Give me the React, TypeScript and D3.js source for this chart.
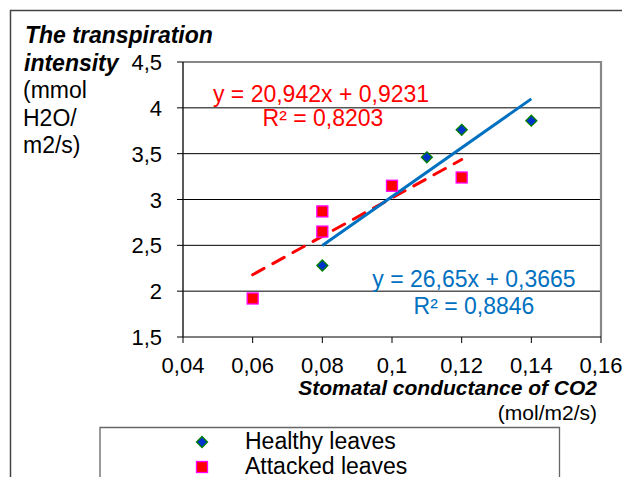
import React from "react";
import * as d3 from "d3";

const HEALTHY_X = [0.08, 0.11, 0.12, 0.14];
const HEALTHY_Y = [2.28, 3.46, 3.76, 3.86];
const ATTACKED_X = [0.06, 0.08, 0.08, 0.1, 0.12];
const ATTACKED_Y = [1.92, 2.87, 2.65, 3.15, 3.24];

// trendlines as given by the labels
const HEALTHY_FIT = { slope: 26.65, intercept: 0.3665, r2: "0,8846", label: "y = 26,65x + 0,3665" };
const ATTACKED_FIT = { slope: 20.942, intercept: 0.9231, r2: "0,8203", label: "y = 20,942x + 0,9231" };

const X_TICKS = [0.04, 0.06, 0.08, 0.1, 0.12, 0.14, 0.16];
const Y_TICKS = [1.5, 2, 2.5, 3, 3.5, 4, 4.5];

const FONT = "'Liberation Sans', Arial, sans-serif";
const BLUE = "#0070C0";
const RED = "#FF0000";

const W = 622;
const H = 477;
const P = { left: 183, right: 601, top: 62, bottom: 337 };

const fmt = (v: number) => String(v).replace(".", ",");

export default function App() {
  const x = d3.scaleLinear().domain([0.04, 0.16]).range([P.left, P.right]);
  const y = d3.scaleLinear().domain([1.5, 4.5]).range([P.bottom, P.top]);

  const fitLine = (fit: typeof HEALTHY_FIT, xs: number[]) => {
    const [x0, x1] = d3.extent(xs) as [number, number];
    return d3.line<number>()
      .x(v => x(v))
      .y(v => y(fit.slope * v + fit.intercept))([x0, x1]) ?? "";
  };

  const healthy = HEALTHY_X.map((v, i) => ({ x: v, y: HEALTHY_Y[i] }));
  const attacked = ATTACKED_X.map((v, i) => ({ x: v, y: ATTACKED_Y[i] }));

  const diamond = (cx: number, cy: number, r: number) =>
    `M${cx},${cy - r}L${cx + r},${cy}L${cx},${cy + r}L${cx - r},${cy}Z`;

  return (
    <svg width={W} height={H} style={{ position: "absolute", left: 0, top: 0, fontFamily: FONT }}>
      <rect x={0} y={0} width={W} height={H} fill="#fff" />
      {/* outer chart border */}
      <path d={`M10.5,${H}V10.5H${W}`} fill="none" stroke="#444" strokeWidth={1.5} />

      {/* gridlines */}
      {Y_TICKS.filter(t => t > 1.5 && t < 4.5).map(t => (
        <line key={t} x1={P.left} x2={P.right} y1={y(t)} y2={y(t)} stroke="#000" strokeWidth={1} />
      ))}
      {/* plot area frame */}
      <path d={`M${P.left},${P.top}H${P.right}V${P.bottom}`} fill="none" stroke="#888" strokeWidth={2.2} />
      <line x1={P.left} x2={P.right} y1={P.bottom} y2={P.bottom} stroke="#000" strokeWidth={1.2} />
      <line x1={P.left} x2={P.left} y1={P.top} y2={P.bottom} stroke="#222" strokeWidth={1.5} />

      {/* y ticks */}
      {Y_TICKS.map(t => (
        <g key={t}>
          <line x1={P.left - 6} x2={P.left} y1={y(t)} y2={y(t)} stroke="#000" />
          <text x={P.left - 21} y={y(t) + 8} textAnchor="end" fontSize={22}>{fmt(t)}</text>
        </g>
      ))}
      {/* x ticks */}
      {X_TICKS.map(t => (
        <g key={t}>
          <line x1={x(t)} x2={x(t)} y1={P.bottom} y2={P.bottom + 6} stroke="#000" />
          <text x={x(t)} y={373} textAnchor="middle" fontSize={22}>{fmt(t)}</text>
        </g>
      ))}

      {/* trendlines */}
      <path d={fitLine(ATTACKED_FIT, ATTACKED_X)} fill="none" stroke={RED} strokeWidth={3}
        strokeDasharray="13 10" strokeLinecap="round" />
      <path d={fitLine(HEALTHY_FIT, HEALTHY_X)} fill="none" stroke={BLUE} strokeWidth={3} />

      {/* points */}
      {attacked.map((d, i) => (
        <rect key={i} x={x(d.x) - 5.5} y={y(d.y) - 5.5} width={11} height={11}
          fill={RED} stroke="#FF00FF" strokeWidth={1.3} />
      ))}
      {healthy.map((d, i) => (
        <path key={i} d={diamond(x(d.x), y(d.y), 5.5)} fill="#0033CC" stroke="#008000" strokeWidth={1.3} />
      ))}

      {/* trendline labels */}
      <text x={321} y={102} textAnchor="middle" fontSize={23} fill={RED}>{ATTACKED_FIT.label}</text>
      <text x={323} y={126} textAnchor="middle" fontSize={23} fill={RED}>R² = {ATTACKED_FIT.r2}</text>
      <text x={474} y={287} textAnchor="middle" fontSize={23} fill={BLUE}>{HEALTHY_FIT.label}</text>
      <text x={474} y={314} textAnchor="middle" fontSize={23} fill={BLUE}>R² = {HEALTHY_FIT.r2}</text>

      {/* y-axis title */}
      <text x={25} fontSize={23}>
        <tspan x={25} y={43} fontWeight="bold" fontStyle="italic">The transpiration</tspan>
        <tspan x={24} y={71} fontWeight="bold" fontStyle="italic">intensity</tspan>
        <tspan x={23} y={98}>(mmol</tspan>
        <tspan x={23} y={126}>H2O/</tspan>
        <tspan x={23} y={153}>m2/s)</tspan>
      </text>

      {/* x-axis title */}
      <text x={597} y={395} textAnchor="end" fontSize={21} fontWeight="bold" fontStyle="italic">
        Stomatal conductance of CO2
      </text>
      <text x={597} y={420} textAnchor="end" fontSize={21}>(mol/m2/s)</text>

      {/* legend */}
      <path d={`M100,${H}V427.5H559.5V${H}`} fill="none" stroke="#666" strokeWidth={1.3} />
      <path d={diamond(202, 442, 5.5)} fill="#0033CC" stroke="#008000" strokeWidth={1.3} />
      <text x={245} y={449} fontSize={23}>Healthy leaves</text>
      <rect x={196.5} y={461.5} width={11} height={11} fill={RED} stroke="#FF00FF" strokeWidth={1.3} />
      <text x={245} y={474} fontSize={23}>Attacked leaves</text>
    </svg>
  );
}
